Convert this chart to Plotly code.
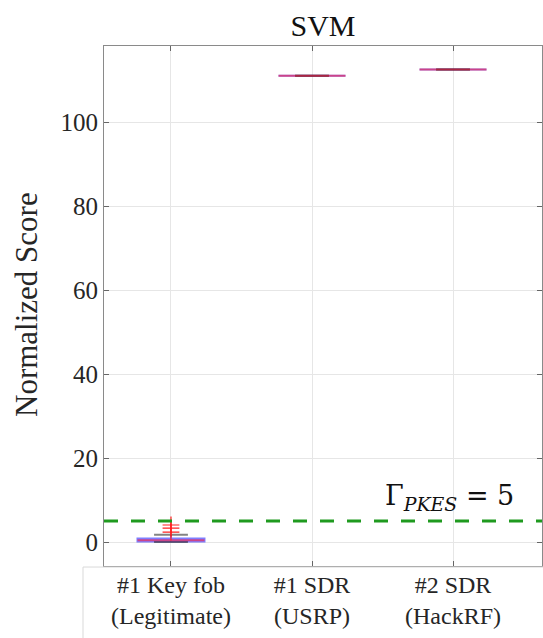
import plotly.graph_objects as go

# Normalized SVM scores per device (box statistics)
categories = ["#1 Key fob<br>(Legitimate)", "#1 SDR<br>(USRP)", "#2 SDR<br>(HackRF)"]
positions = [1, 2, 3]
q1 = [0.10, 111.0, 112.5]
median = [0.45, 111.0, 112.5]
q3 = [0.85, 111.0, 112.5]
lower_fence = [0.0, 111.0, 112.5]
upper_fence = [1.75, 111.0, 112.5]

# Outliers of the legitimate key fob
outlier_x = [1, 1, 1]
outlier_y = [4.05, 3.3, 2.35]

threshold = 5
y_ticks = [0, 20, 40, 60, 80, 100]

FONT = "Liberation Serif"
BOX_W = 0.475
CAP_W = 0.24

fig = go.Figure()

fig.add_trace(go.Box(
    x=positions, q1=q1, median=median, q3=q3,
    lowerfence=lower_fence, upperfence=upper_fence,
    width=BOX_W, whiskerwidth=0.0,
    line=dict(color="rgba(40,40,255,0.6)", width=2),
    fillcolor="rgba(0,0,0,0)",
    boxpoints=False, showlegend=False, hoverinfo="skip",
))

# Whisker caps
for p, lo, hi in zip(positions, lower_fence, upper_fence):
    for v in (lo, hi):
        fig.add_trace(go.Scatter(
            x=[p - CAP_W / 2, p + CAP_W / 2], y=[v, v], mode="lines",
            line=dict(color="rgba(30,30,30,0.55)", width=2),
            showlegend=False, hoverinfo="skip",
        ))

# Medians in red
for p, m in zip(positions, median):
    fig.add_trace(go.Scatter(
        x=[p - BOX_W / 2, p + BOX_W / 2], y=[m, m], mode="lines",
        line=dict(color="rgba(255,30,60,0.6)", width=2),
        showlegend=False, hoverinfo="skip",
    ))

fig.add_trace(go.Scatter(
    x=outlier_x, y=outlier_y, mode="markers",
    marker=dict(symbol="cross-thin", size=12,
                line=dict(color="#ff2020", width=1.2)),
    showlegend=False, hoverinfo="skip",
))

# Decision threshold
fig.add_shape(type="line", xref="paper", x0=0, x1=1, yref="y",
              y0=threshold, y1=threshold,
              line=dict(color="#1f9a1f", width=3, dash="14px,13px"))

fig.add_annotation(
    text="Γ<sub><i>PKES</i></sub> = 5", xref="x", yref="y",
    x=2.975, y=threshold + 1.0, xanchor="center", yanchor="bottom",
    showarrow=False, font=dict(family="DejaVu Serif", size=27, color="#111111"),
)

# Frame around the category labels
fig.add_shape(type="rect", xref="paper", yref="paper",
              x0=(83 - 104) / 438, x1=1.05, y0=-0.3, y1=-0.002,
              line=dict(color="#d9d9d9", width=1))

fig.add_annotation(
    text="Normalized Score", xref="paper", yref="paper",
    x=(26 - 104) / 438, y=(566 - 305) / 520, xanchor="center", yanchor="middle",
    textangle=-90, showarrow=False,
    font=dict(family=FONT, size=31, color="#262626"),
)

axis_common = dict(
    showline=True, linecolor="#8a8a8a", linewidth=1.2, mirror="ticks",
    ticks="inside", ticklen=5, tickcolor="#666666",
    showgrid=True, gridcolor="#e6e6e6", gridwidth=1, zeroline=False,
)

fig.update_xaxes(range=[0.525, 3.631], tickvals=positions, ticktext=categories,
                 tickfont=dict(family=FONT, size=24, color="#262626"),
                 ticklabelstandoff=-3, **axis_common)
fig.update_yaxes(range=[-5.71, 118.1], tickvals=y_ticks,
                 tickfont=dict(family=FONT, size=25, color="#262626"),
                 **axis_common)

fig.update_layout(
    width=543, height=638,
    margin=dict(l=104, r=1, t=46, b=72),
    paper_bgcolor="white", plot_bgcolor="white",
    boxmode="overlay",
    title=dict(text="SVM", x=(323) / 543, xanchor="center", xref="container",
               y=1 - 25 / 638, yanchor="middle", yref="container",
               font=dict(family=FONT, size=30, color="#111111")),
)

fig.write_html("out.html")
